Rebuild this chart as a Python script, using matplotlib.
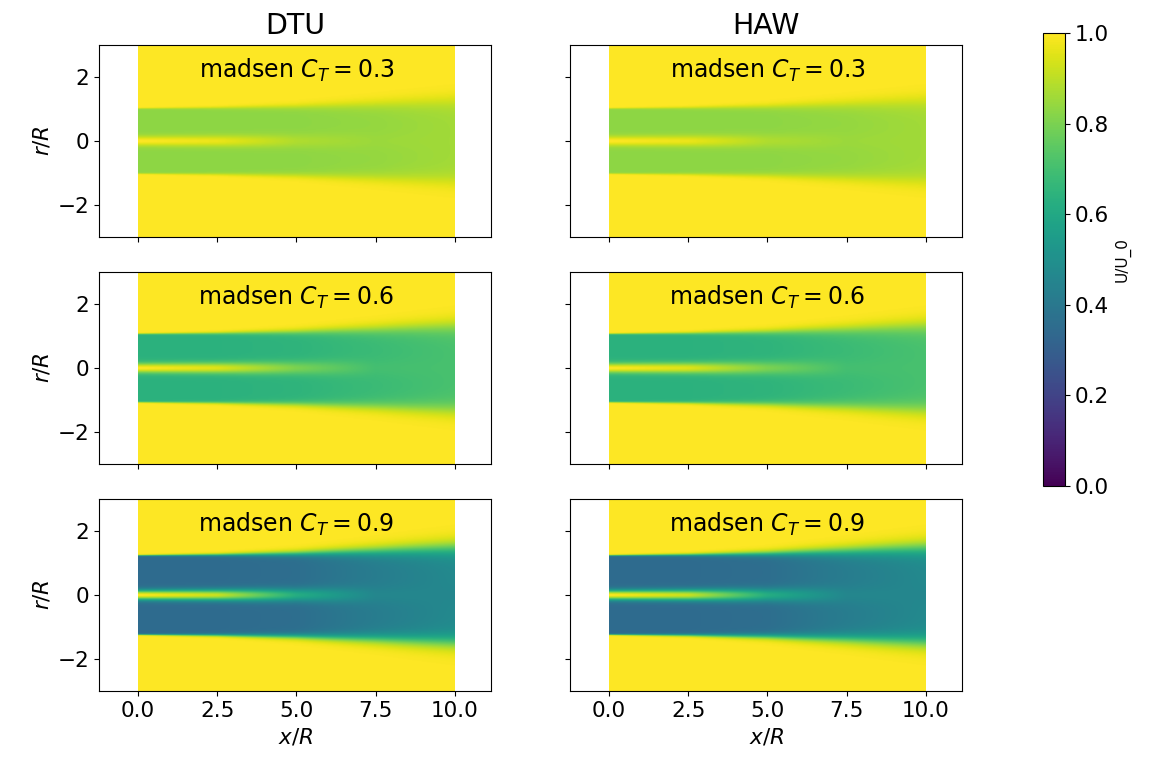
import numpy as np
import matplotlib
matplotlib.use('Agg')
import matplotlib.pyplot as plt

# values
models = ['DTU', 'HAW']
ct_values = [0.3, 0.6, 0.9]
x_stations = [0.0, 2.5, 5.0, 7.5, 10.0]

# velocity in the wake core (off centre) at each station
u_wake = {0.3: [0.83, 0.83, 0.83, 0.84, 0.86],
          0.6: [0.64, 0.64, 0.65, 0.68, 0.71],
          0.9: [0.35, 0.35, 0.36, 0.42, 0.47]}
# velocity on the centre line
u_centre = {0.3: [1.0, 0.97, 0.88, 0.85, 0.86],
            0.6: [1.0, 0.95, 0.80, 0.70, 0.71],
            0.9: [1.0, 0.92, 0.62, 0.46, 0.46]}
# wake radius (middle of the edge)
r_wake = {0.3: [1.02, 1.04, 1.08, 1.16, 1.26],
          0.6: [1.07, 1.09, 1.13, 1.21, 1.32],
          0.9: [1.24, 1.26, 1.30, 1.38, 1.48]}
edge_width = [0.02, 0.05, 0.11, 0.2, 0.3]
streak_width = [0.15, 0.17, 0.21, 0.27, 0.32]

x = np.linspace(0, 10, 400)
r = np.linspace(-3, 3, 300)
X, Rr = np.meshgrid(x, r)


def field(ct):
    uw = np.interp(X, x_stations, u_wake[ct])
    uc = np.interp(X, x_stations, u_centre[ct])
    rw = np.interp(X, x_stations, r_wake[ct])
    ew = np.interp(X, x_stations, edge_width)
    sw = np.interp(X, x_stations, streak_width)
    shape = 0.5 * (1 - np.tanh((np.abs(Rr) - rw) / ew))
    u = 1 - (1 - uw) * shape
    u = u + (uc - uw) * np.exp(-(Rr / sw) ** 2)
    return u


fig = plt.figure(figsize=(11.53, 7.71), dpi=100)
lefts = [0.0859, 0.4944]
bottoms = [0.6926, 0.398, 0.1038]
w, h = 0.340, 0.249

for j, model in enumerate(models):
    for i, ct in enumerate(ct_values):
        ax = fig.add_axes([lefts[j], bottoms[i], w, h])
        im = ax.imshow(field(ct), extent=[0, 10, -3, 3], origin='lower',
                       cmap='viridis', vmin=0, vmax=1, aspect='auto',
                       interpolation='bilinear')
        ax.set_xlim(-1.23, 11.14)
        ax.set_ylim(-3, 3)
        ax.set_xticks([0, 2.5, 5, 7.5, 10])
        ax.set_yticks([-2, 0, 2])
        ax.tick_params(labelsize=15.5)
        ax.text(5, 2.2, 'madsen $C_T=%s$' % ct, ha='center', va='center',
                fontsize=17)
        if i == 0:
            ax.set_title(model, fontsize=20.5, pad=8)
        if i == 2:
            ax.set_xlabel('$x/R$', fontsize=15.5)
        else:
            ax.set_xticklabels([])
        if j == 0:
            ax.set_ylabel('$r/R$', fontsize=15.5)
        else:
            ax.set_yticklabels([])

cax = fig.add_axes([0.9046, 0.3696, 0.0191, 0.5875])
cb = fig.colorbar(im, cax=cax)
cb.ax.tick_params(labelsize=15.5)
cb.set_label('U/U_0', fontsize=11)

fig.savefig('out.png', dpi=100)
